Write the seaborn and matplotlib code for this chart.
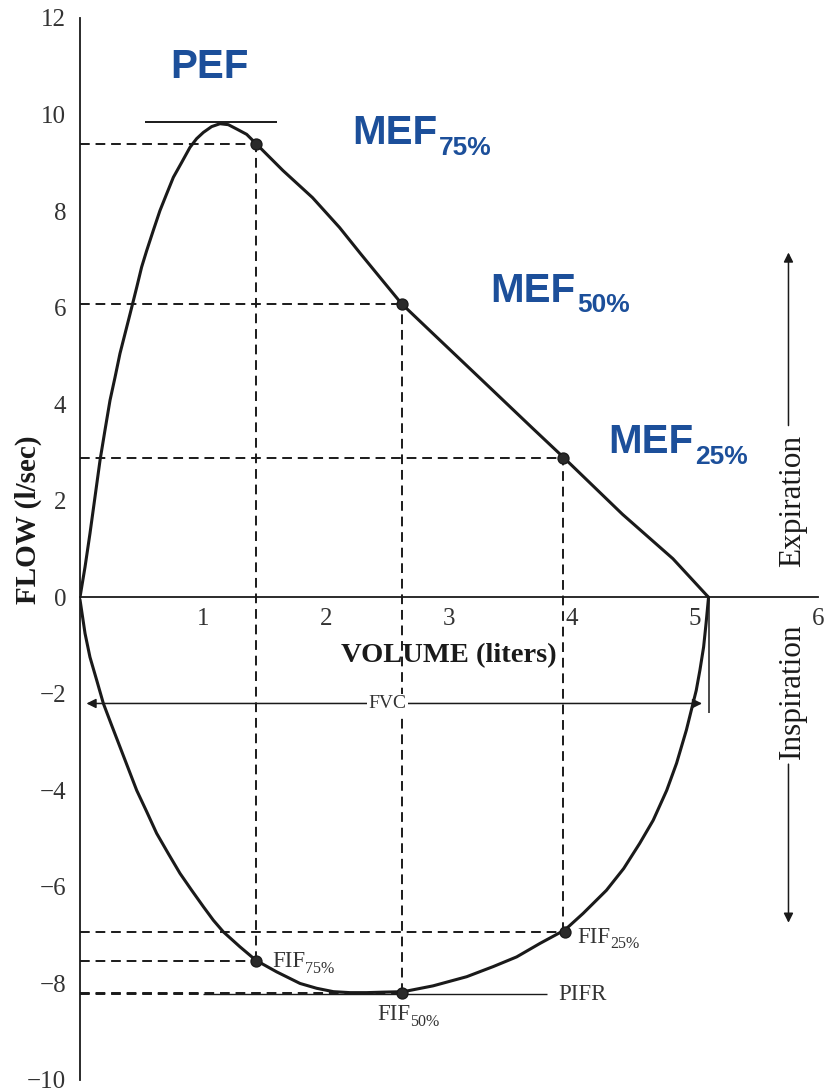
import seaborn as sns
import matplotlib.pyplot as plt
import pandas as pd

# expiratory limb (volume in liters, flow in l/sec)
exp_volume = [0.0, 0.041, 0.081, 0.122, 0.163, 0.203, 0.244, 0.285, 0.325, 0.366,
              0.407, 0.461, 0.501, 0.542, 0.596, 0.650, 0.705, 0.759, 0.827, 0.894,
              0.948, 1.003, 1.07, 1.138, 1.206, 1.274, 1.355, 1.43, 1.65, 1.89,
              2.11, 2.28, 2.46, 2.615, 2.85, 3.28, 3.68, 3.93, 4.41, 4.82, 5.11]
exp_flow = [0.0, 0.63, 1.32, 2.08, 2.84, 3.46, 4.08, 4.56, 5.05, 5.46,
            5.87, 6.42, 6.84, 7.18, 7.60, 8.01, 8.36, 8.70, 9.01, 9.32,
            9.50, 9.63, 9.75, 9.81, 9.79, 9.70, 9.59, 9.40, 8.84, 8.28,
            7.66, 7.12, 6.56, 6.08, 5.51, 4.47, 3.50, 2.90, 1.72, 0.80, 0.0]

# inspiratory limb
insp_volume = [0.0, 0.041, 0.081, 0.136, 0.190, 0.257, 0.325, 0.393, 0.461, 0.542,
               0.623, 0.718, 0.813, 0.908, 1.003, 1.084, 1.165, 1.30, 1.43, 1.599,
               1.789, 1.924, 2.06, 2.195, 2.33, 2.466, 2.63, 2.87, 3.144, 3.36,
               3.55, 3.74, 3.943, 4.09, 4.28, 4.42, 4.55, 4.66, 4.77, 4.85,
               4.93, 4.97, 5.01, 5.04, 5.07, 5.09, 5.11]
insp_flow = [-0.05, -0.75, -1.24, -1.72, -2.20, -2.65, -3.10, -3.55, -4.0, -4.44,
             -4.89, -5.31, -5.72, -6.07, -6.41, -6.69, -6.93, -7.24, -7.52, -7.76,
             -8.0, -8.10, -8.17, -8.19, -8.19, -8.18, -8.17, -8.05, -7.86, -7.65,
             -7.45, -7.17, -6.89, -6.55, -6.07, -5.62, -5.10, -4.62, -4.0, -3.44,
             -2.75, -2.34, -1.93, -1.51, -1.03, -0.54, 0.0]

# marked points
mef_volume = [1.43, 2.615, 3.93]
mef_flow = [9.40, 6.08, 2.88]
fif_volume = [1.43, 2.62, 3.94]
fif_flow = [-7.53, -8.20, -6.93]

pef_flow = 9.84
pifr_flow = -8.22
fvc = 5.11
fvc_line = -2.2

x_ticks = [1, 2, 3, 4, 5, 6]
y_ticks = [-10, -8, -6, -4, -2, 0, 2, 4, 6, 8, 10, 12]

sns.set_style('white')
plt.rcParams['font.family'] = ['Liberation Serif', 'DejaVu Serif']

ink = '#1a1a1a'
grey = '#333333'
blue = '#1c4f9a'

fig = plt.figure(figsize=(8.26, 10.92), dpi=100)
ax = fig.add_axes([80 / 826, 12 / 1092, 738 / 826, 1062 / 1092])
ax.set_xlim(0, 6)
ax.set_ylim(-10, 12)

# guide lines (dashed)
dash = dict(color=ink, lw=1.4, linestyles=(0, (5, 3)))
ax.hlines(mef_flow, 0, mef_volume, **dash)
ax.vlines(mef_volume, fif_flow, mef_flow, **dash)
ax.hlines(fif_flow, 0, fif_volume, **dash)
ax.hlines(pifr_flow, 0, 1.0, **dash)

# PEF / PIFR solid reference lines
ax.hlines(pef_flow, 0.53, 1.6, color=ink, lw=1.4)
ax.hlines(pifr_flow, 1.0, 3.8, color=ink, lw=1.0)

# the loop
exp_df = pd.DataFrame({'volume': exp_volume, 'flow': exp_flow})
insp_df = pd.DataFrame({'volume': insp_volume, 'flow': insp_flow})
sns.lineplot(data=exp_df, x='volume', y='flow', sort=False, color=ink, lw=2.2, ax=ax)
sns.lineplot(data=insp_df, x='volume', y='flow', sort=False, color=ink, lw=2.2, ax=ax)

pts = pd.DataFrame({'volume': mef_volume + fif_volume, 'flow': mef_flow + fif_flow})
sns.scatterplot(data=pts, x='volume', y='flow', color='#2a2a2a', s=62, edgecolor=ink,
                linewidth=1, zorder=5, ax=ax)

# FVC double arrow
ax.annotate('', xy=(0.03, fvc_line), xytext=(fvc - 0.03, fvc_line),
            arrowprops=dict(arrowstyle='<|-|>', color=ink, lw=1.1, mutation_scale=14))
ax.vlines(fvc, -2.4, 0, color=ink, lw=1.1)
ax.text(2.5, fvc_line, 'FVC', ha='center', va='center', fontsize=14, color=grey,
        bbox=dict(facecolor='white', edgecolor='none', pad=1))

# axes styling
for side in ['top', 'right']:
    ax.spines[side].set_visible(False)
ax.spines['left'].set_position(('data', 0))
ax.spines['bottom'].set_position(('data', 0))
for side in ['left', 'bottom']:
    ax.spines[side].set_color(ink)
    ax.spines[side].set_linewidth(1.3)
ax.set_xticks(x_ticks)
ax.set_yticks(y_ticks)
ax.tick_params(axis='y', direction='in', length=10, width=1.3, pad=10,
               labelsize=18, colors=ink, labelcolor=grey)
ax.tick_params(axis='x', direction='in', length=9, width=1.3, pad=8,
               labelsize=18, colors=ink, labelcolor=grey)
for lab in ax.get_xticklabels() + ax.get_yticklabels():
    lab.set_clip_on(False)
ax.set_xlabel('')
ax.set_ylabel('')

ax.text(-0.42, 1.6, 'FLOW (l/sec)', rotation=90, ha='center', va='center',
        fontsize=21, fontweight='bold', color=ink, clip_on=False)
ax.text(3.0, -1.2, 'VOLUME (liters)', ha='center', va='center',
        fontsize=20.5, fontweight='bold', color=ink)

# expiration / inspiration arrows on the right
ax.annotate('', xy=(5.76, 7.2), xytext=(5.76, 3.5),
            arrowprops=dict(arrowstyle='-|>', color=ink, lw=1.1, mutation_scale=14))
ax.annotate('', xy=(5.76, -6.8), xytext=(5.76, -3.4),
            arrowprops=dict(arrowstyle='-|>', color=ink, lw=1.1, mutation_scale=14))
ax.text(5.79, 2.0, 'Expiration', rotation=90, ha='center', va='center',
        fontsize=22.5, color=ink)
ax.text(5.79, -1.95, 'Inspiration', rotation=90, ha='center', va='center',
        fontsize=22.5, color=ink)

# FIF labels
fif_main = dict(fontsize=16.5, color=grey, va='baseline', ha='left')
fif_sub = dict(fontsize=11.5, color=grey, va='baseline', ha='left')
ax.text(1.561, -7.66, 'FIF', **fif_main)
ax.text(1.83, -7.78, '75%', **fif_sub)
ax.text(2.415, -8.76, 'FIF', **fif_main)
ax.text(2.685, -8.88, '50%', **fif_sub)
ax.text(4.04, -7.16, 'FIF', **fif_main)
ax.text(4.31, -7.27, '25%', **fif_sub)
ax.text(3.886, -8.34, 'PIFR', fontsize=16.5, color=grey, va='baseline', ha='left')

# blue labels
big = dict(fontsize=29, fontweight='bold', color=blue, va='baseline', ha='left',
           family=['Liberation Sans', 'DejaVu Sans'])
small = dict(fontsize=19, fontweight='bold', color=blue, va='baseline', ha='left',
             family=['Liberation Sans', 'DejaVu Sans'])
ax.text(0.732, 10.75, 'PEF', **big)
ax.text(2.211, 9.38, 'MEF', **big)
ax.text(2.92, 9.17, '75%', **small)
ax.text(3.333, 6.11, 'MEF', **big)
ax.text(4.04, 5.90, '50%', **small)
ax.text(4.293, 2.98, 'MEF', **big)
ax.text(5.0, 2.77, '25%', **small)

fig.savefig('out.png', dpi=100)
